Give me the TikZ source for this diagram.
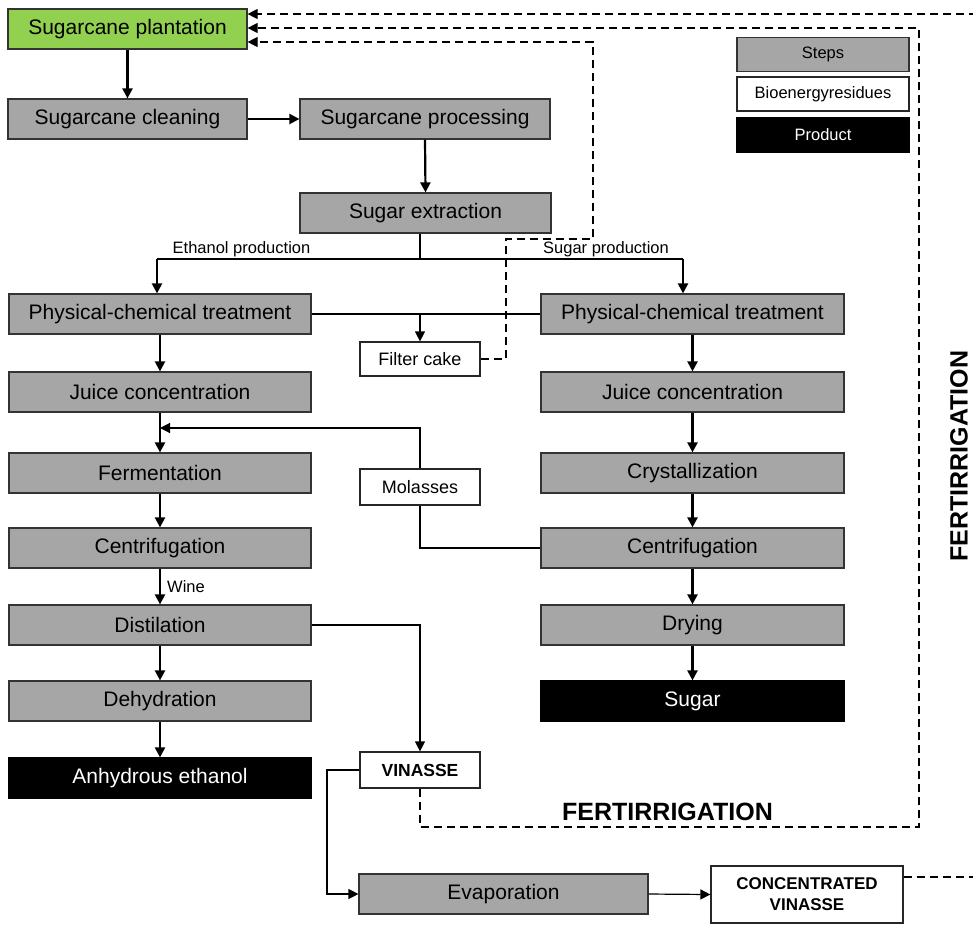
\documentclass[tikz,border=0pt]{standalone}
\usepackage{fontspec}
\setmainfont{Liberation Sans}
\usetikzlibrary{arrows.meta}
\definecolor{stepgray}{HTML}{A6A6A6}
\definecolor{plantgreen}{HTML}{92D050}
\definecolor{edgegray}{HTML}{333333}
\begin{document}
\begin{tikzpicture}[x=1pt,y=-1pt,
  boxbase/.style={draw=edgegray,line width=1.2pt,inner sep=0pt,minimum height=40pt,align=center,font=\fontsize{21}{24}\selectfont},
  stepbox/.style={boxbase,fill=stepgray},
  plantbox/.style={boxbase,fill=plantgreen},
  prodbox/.style={boxbase,fill=black,draw=black,text=white},
  resbox/.style={boxbase,fill=white,draw=black!85,font=\fontsize{17.5}{20}\selectfont},
  legbox/.style={boxbase,minimum width=172pt,minimum height=34pt,font=\fontsize{16.5}{19}\selectfont},
  mainline/.style={line width=2.2pt},
  thinline/.style={line width=1.2pt},
  dashline/.style={line width=1.2pt,dash pattern=on 8pt off 5pt},
  arr/.style={-{Triangle[length=10pt,width=10pt]}},
  lbl/.style={inner sep=0pt,font=\fontsize{16.5}{19}\selectfont},
  bigbold/.style={inner sep=0pt,font=\fontsize{25}{28}\bfseries\selectfont}
]
\path[use as bounding box,clip] (0,0) rectangle (973,924);
% top nodes
\node[plantbox,minimum width=239pt] (plant) at (127.5,29) {Sugarcane plantation};
\node[stepbox,minimum width=239pt] (clean) at (127.5,119) {Sugarcane cleaning};
\node[stepbox,minimum width=250pt] (proc) at (425,119) {Sugarcane processing};
\node[stepbox,minimum width=251pt] (extr) at (425.5,213) {Sugar extraction};
% legend
\node[legbox,fill=stepgray] (lsteps) at (823,54.5) {Steps};
\node[legbox,fill=white,draw=black!85] (lres) at (823,94) {Bioenergyresidues};
\node[legbox,fill=black,draw=black,text=white] (lprod) at (823,135) {Product};
% left column
\node[stepbox,minimum width=302pt] (lpct) at (160,314) {Physical-chemical treatment};
\node[stepbox,minimum width=302pt] (ljuice) at (160,392) {Juice concentration};
\node[stepbox,minimum width=302pt] (lferm) at (160,473) {Fermentation};
\node[stepbox,minimum width=302pt] (lcent) at (160,548) {Centrifugation};
\node[stepbox,minimum width=302pt] (ldist) at (160,625) {Distilation};
\node[stepbox,minimum width=302pt] (ldehy) at (160,701) {Dehydration};
\node[prodbox,minimum width=302pt] (lanh) at (160,778) {Anhydrous ethanol};
% right column
\node[stepbox,minimum width=303pt] (rpct) at (692.5,314) {Physical-chemical treatment};
\node[stepbox,minimum width=303pt] (rjuice) at (692.5,392) {Juice concentration};
\node[stepbox,minimum width=303pt] (rcryst) at (692.5,473) {Crystallization};
\node[stepbox,minimum width=303pt] (rcent) at (692.5,548) {Centrifugation};
\node[stepbox,minimum width=303pt] (rdry) at (692.5,625) {Drying};
\node[prodbox,minimum width=303pt] (rsugar) at (692.5,701) {Sugar};
% residues
\node[resbox,minimum width=120pt,minimum height=34pt,font=\fontsize{18}{20}\selectfont] (filter) at (420,359) {Filter cake};
\node[resbox,minimum width=120pt,minimum height=36pt,font=\fontsize{18}{20}\selectfont] (mol) at (420,487) {Molasses};
\node[resbox,minimum width=120pt,minimum height=36pt,font=\fontsize{17.5}{20}\bfseries\selectfont] (vin) at (420,770) {VINASSE};
\node[stepbox,minimum width=289pt] (evap) at (503.5,894) {Evaporation};
\node[resbox,minimum width=192pt,minimum height=57pt,font=\fontsize{17}{21}\bfseries\selectfont] (conc) at (807,894.5) {CONCENTRATED\\VINASSE};
% labels
\node[lbl] (eth) at (241.5,249) {Ethanol production};
\node[lbl] (sug) at (606,249) {Sugar production};
\node[lbl,anchor=west] (wine) at (167,587) {Wine};
\node[bigbold] (fert1) at (667.5,812) {FERTIRRIGATION};
\node[bigbold,rotate=90] (fert2) at (959,456) {FERTIRRIGATION};
% coordinates
\coordinate (jn) at (420,259);
\coordinate (la) at (157,259);
\coordinate (ra) at (683,259);
\coordinate (mj) at (160,428);
\coordinate (vx) at (327,894);
% main flow
\draw[mainline,arr] (plant.south) -- (clean.north);
\draw[mainline,arr] (clean.east) -- (proc.west);
\draw[mainline,arr] (proc.south) -- (extr.north);
\draw[mainline] (jn |- extr.south) -- (jn);
\draw[mainline] (la) -- (ra);
\draw[mainline,arr] (la) -- (la |- lpct.north);
\draw[mainline,arr] (ra) -- (ra |- rpct.north);
\draw[mainline,arr] (lpct.south) -- (ljuice.north);
\draw[mainline,arr] (ljuice.south) -- (lferm.north);
\draw[mainline,arr] (lferm.south) -- (lcent.north);
\draw[mainline,arr] (lcent.south) -- (ldist.north);
\draw[mainline,arr] (ldist.south) -- (ldehy.north);
\draw[mainline,arr] (ldehy.south) -- (lanh.north);
\draw[mainline,arr] (rpct.south) -- (rjuice.north);
\draw[mainline,arr] (rjuice.south) -- (rcryst.north);
\draw[mainline,arr] (rcryst.south) -- (rcent.north);
\draw[mainline,arr] (rcent.south) -- (rdry.north);
\draw[mainline,arr] (rdry.south) -- (rsugar.north);
% thin connectors
\draw[thinline] (lpct.east) -- (rpct.west);
\draw[thinline,arr] (filter.north |- lpct.east) -- (filter.north);
\draw[thinline] (rcent.west) -| (mol.south);
\draw[thinline,arr] (mol.north) |- (mj);
\draw[thinline,arr] (ldist.east) -| (vin.north);
\draw[thinline,arr] (vin.west) -| (vx) -- (evap.west);
\draw[thinline,arr] (evap.east) -- (conc.west);
% dashed returns
\draw[dashline,arr] (conc.east |- 0,877) -- (990,877) -- (990,14) -- (plant.east |- 0,14);
\draw[dashline,arr] (vin.south) |- (919,827) -- (919,28) -- (plant.east |- 0,28);
\draw[dashline,arr] (filter.east) -- (506,359) -- (506,239) -- (593,239) -- (593,42) -- (plant.east |- 0,42);
\end{tikzpicture}
\end{document}
